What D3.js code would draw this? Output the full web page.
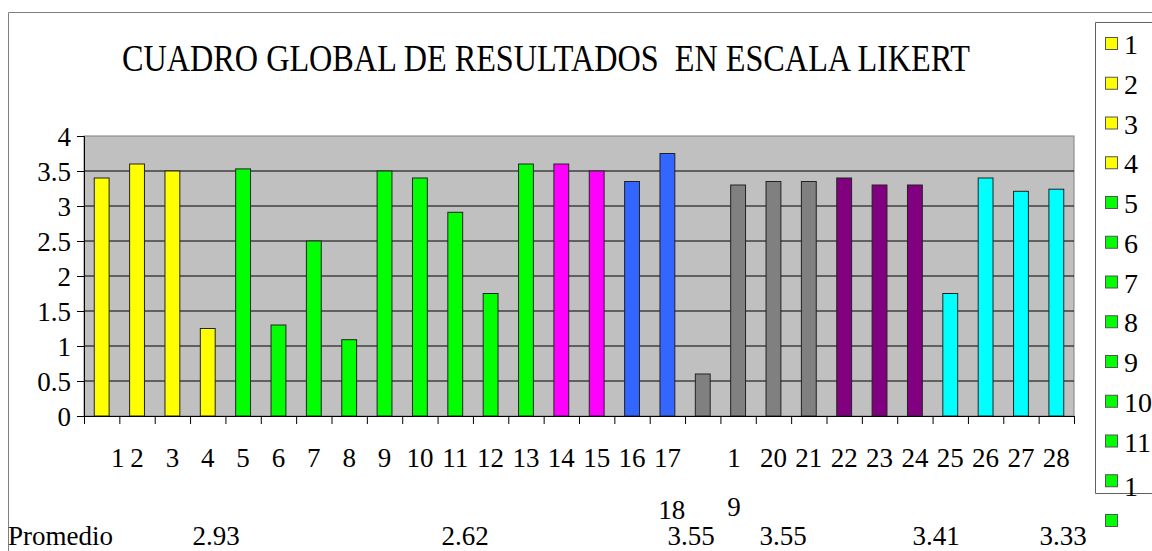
<!DOCTYPE html>
<html>
<head>
<meta charset="utf-8">
<script src="https://cdn.jsdelivr.net/npm/d3@7"></script>
<style>
  html, body { margin: 0; padding: 0; background: #fff; overflow: hidden; }
  svg text { font-family: "Times New Roman", Times, "Liberation Serif", "DejaVu Serif", "Noto Serif", serif; }
</style>
</head>
<body>
<svg id="chart"></svg>
<script>
const categories = ['1', '2', '3', '4', '5', '6', '7', '8', '9', '10', '11', '12', '13', '14',
  '15', '16', '17', '18', '19', '20', '21', '22', '23', '24', '25', '26', '27', '28'];
const values = [3.4, 3.6, 3.5, 1.25, 3.53, 1.3, 2.5, 1.09, 3.5, 3.4, 2.91, 1.75, 3.6, 3.6,
  3.5, 3.35, 3.75, 0.6, 3.3, 3.35, 3.35, 3.4, 3.3, 3.3, 1.75, 3.4, 3.21, 3.24];
const groups = ['A', 'A', 'A', 'A', 'B', 'B', 'B', 'B', 'B', 'B', 'B', 'B', 'B', 'C',
  'C', 'D', 'D', 'E', 'E', 'E', 'E', 'F', 'F', 'F', 'G', 'G', 'G', 'G'];
const groupNames = ['A', 'B', 'C', 'D', 'E', 'F', 'G'];
const groupColors = ['#ffff00', '#00ff00', '#ff00ff', '#3366ff', '#808080', '#800080', '#00ffff'];
const yTicks = [0, 0.5, 1, 1.5, 2, 2.5, 3, 3.5, 4];
const averages = ['2.93', '2.62', '3.55', '3.55', '3.41', '3.33'];
const legendCount = 13;

const width = 1152, height = 551;
const plot = { left: 84, right: 1074, top: 136, bottom: 416 };
const serif = '"Times New Roman", Times, "Liberation Serif", "DejaVu Serif", "Noto Serif", serif';
// where the "Promedio" values sit under the chart
const avgX = [216, 465, 691, 783, 936, 1063];

const svg = d3.select('#chart')
  .attr('width', width).attr('height', height)
  .attr('font-family', serif);

const color = d3.scaleOrdinal().domain(groupNames).range(groupColors);

const x = d3.scaleBand()
  .domain(categories)
  .range([plot.left, plot.right])
  .paddingInner(0.58)
  .paddingOuter(0.29);

const xEdge = d3.scaleLinear().domain([0, categories.length]).range([plot.left, plot.right]);

const y = d3.scaleLinear().domain([0, 4]).range([plot.bottom, plot.top]);

// outer frame
svg.append('path')
  .attr('d', `M8.5,${height} V12.5 H${width}`)
  .attr('fill', 'none')
  .attr('stroke', '#808080');

// title
svg.append('text')
  .attr('x', 546).attr('y', 71)
  .attr('text-anchor', 'middle')
  .attr('font-size', 37)
  .attr('textLength', 848)
  .attr('lengthAdjust', 'spacingAndGlyphs')
  .style('white-space', 'pre')
  .text('CUADRO GLOBAL DE RESULTADOS  EN ESCALA LIKERT');

// plot background
svg.append('rect')
  .attr('x', plot.left).attr('y', plot.top)
  .attr('width', plot.right - plot.left).attr('height', plot.bottom - plot.top)
  .attr('fill', '#c0c0c0')
  .attr('stroke', '#808080');

// gridlines
svg.append('g')
  .selectAll('line')
  .data(yTicks.filter(d => d > 0 && d < 4))
  .join('line')
  .attr('x1', plot.left).attr('x2', plot.right)
  .attr('y1', d => y(d)).attr('y2', d => y(d))
  .attr('stroke', '#000');

// bars
svg.append('g')
  .selectAll('rect')
  .data(values)
  .join('rect')
  .attr('x', (d, i) => x(categories[i]))
  .attr('y', d => y(d))
  .attr('width', x.bandwidth())
  .attr('height', d => y(0) - y(d))
  .attr('fill', (d, i) => color(groups[i]))
  .attr('stroke', '#222')
  .attr('stroke-width', 1);

// y axis
const yAxis = svg.append('g')
  .attr('transform', `translate(${plot.left},0)`)
  .call(d3.axisLeft(y).tickValues(yTicks).tickSize(7).tickPadding(6).tickFormat(d3.format('')))
  .attr('font-family', serif)
  .attr('font-size', 27);
yAxis.selectAll('text').attr('fill', '#000').attr('dy', '0.34em');
yAxis.selectAll('line, path').attr('stroke', '#000');

// x axis: tick marks on category edges
const xTicks = svg.append('g')
  .attr('transform', `translate(0,${plot.bottom})`)
  .call(d3.axisBottom(xEdge).tickValues(d3.range(categories.length + 1)).tickSize(8).tickFormat(''));
xTicks.selectAll('line, path').attr('stroke', '#000');

// x axis labels (some got pushed around like in the original)
const shiftX = { '1': 16, '18': -31, '19': -4 };
const labels = svg.append('g')
  .attr('font-size', 27)
  .attr('text-anchor', 'middle')
  .selectAll('text')
  .data(categories)
  .join('text')
  .attr('x', d => x(d) + x.bandwidth() / 2 + (shiftX[d] || 0))
  .attr('y', d => d === '18' ? 519 : 467);
labels.filter(d => d !== '19').text(d => d);
labels.filter(d => d === '19').each(function (d) {
  const t = d3.select(this);
  t.append('tspan').text(d[0]);
  t.append('tspan').attr('x', t.attr('x')).attr('y', 516).text(d[1]);
});

// Promedio row
svg.append('text')
  .attr('x', 8).attr('y', 545)
  .attr('font-size', 27)
  .text('Promedio');
svg.append('g')
  .attr('font-size', 27)
  .attr('text-anchor', 'middle')
  .selectAll('text')
  .data(averages)
  .join('text')
  .attr('x', (d, i) => avgX[i])
  .attr('y', 545)
  .text(d => d);

// legend
const legendTop = 44, legendStep = 39.75;
svg.append('path')
  .attr('d', `M${width},22.5 H1095.5 V493.5 H${width}`)
  .attr('fill', 'none')
  .attr('stroke', '#606060');

const legend = svg.append('g')
  .selectAll('g')
  .data(categories.slice(0, legendCount))
  .join('g')
  .attr('transform', (d, i) => `translate(1105,${legendTop + i * legendStep})`);

legend.append('rect')
  .attr('x', 0.5).attr('y', -6.5)
  .attr('width', 12).attr('height', 12)
  .attr('fill', (d, i) => color(groups[i]))
  .attr('stroke', '#555');

legend.append('text')
  .attr('x', 19)
  .attr('y', (d, i) => i === 11 ? 15 : 10)
  .attr('font-size', 28)
  .text((d, i) => i < 11 ? d : (i === 11 ? d[0] : ''));
</script>
</body>
</html>
